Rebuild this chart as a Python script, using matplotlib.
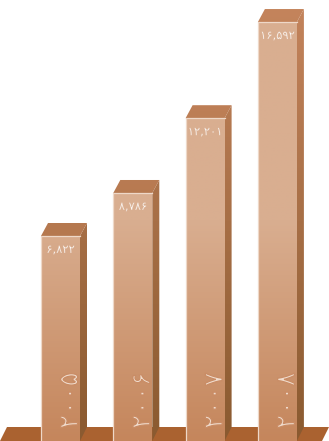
import matplotlib
matplotlib.use("Agg")
import matplotlib.pyplot as plt
import matplotlib.patheffects as pe
from matplotlib.colors import LinearSegmentedColormap
from matplotlib.patches import Polygon
import numpy as np

years = ["۲۰۰۵", "۲۰۰۶", "۲۰۰۷", "۲۰۰۸"]
values = [6822, 8786, 12201, 16592]
value_labels = ["۶,۸۲۲", "۸,۷۸۶", "۱۲,۲۰۱", "۱۶,۵۹۲"]

# pixels per value unit / per category
px_per_val = 0.0219
px_per_cat = 72.3
zero_px = 385.4
first_px = 60.5
bar_w = 39 / px_per_cat
dx = 7 / px_per_cat
dy = 14 / px_per_val

W, H = 329, 441
fig = plt.figure(figsize=(W / 100, H / 100), dpi=100)
ax = fig.add_axes([0, 0, 1, 1])
xlim = (-first_px / px_per_cat, (W - first_px) / px_per_cat)
ylim = (-(H - zero_px) / px_per_val, zero_px / px_per_val)

front_cm = LinearSegmentedColormap.from_list("front", ["#c5865c", "#d9ae90", "#d9ae90"])
side_cm = LinearSegmentedColormap.from_list("side", ["#8a5a30", "#c4845c"])
top_cm = LinearSegmentedColormap.from_list("top", ["#a86e44", "#c4845c"])
grad = np.linspace(0, 1, 256).reshape(-1, 1)


def fill(points, cmap, z):
    poly = Polygon(points, closed=True, fc="none", ec="none", transform=ax.transData)
    ax.add_patch(poly)
    im = ax.imshow(grad, cmap=cmap, origin="lower", aspect="auto", zorder=z,
                   extent=[xlim[0], xlim[1], ylim[0], ylim[1]])
    im.set_clip_path(poly)


def thin(color, width):
    # eat into the glyphs with the bar colour so the digits look light
    return [pe.Normal(), pe.PathPatchEffect(facecolor="none", edgecolor=color, linewidth=width)]


# floor
ax.add_patch(Polygon([(xlim[0] + dx, ylim[0] + dy), (xlim[1], ylim[0] + dy),
                      (xlim[1] - dx, ylim[0]), (xlim[0], ylim[0])],
                     closed=True, fc="#aa6230", ec="none", zorder=1))

for i, v in enumerate(values):
    l, r = i - bar_w / 2, i + bar_w / 2
    fill([(r, ylim[0]), (r + dx, ylim[0] + dy), (r + dx, v + 13 / px_per_val), (r, v)], side_cm, 2)
    fill([(l, v), (l + dx, v + 13 / px_per_val), (r + dx, v + 13 / px_per_val), (r, v)], top_cm, 2)
    fill([(l, ylim[0]), (r, ylim[0]), (r, v), (l, v)], front_cm, 3)
    ax.plot([l, l, r], [ylim[0], v, v], color="#eed8c8", lw=0.9, zorder=4, solid_joinstyle="miter")
    label_bg = front_cm((v - ylim[0]) / (ylim[1] - ylim[0]))
    ax.text(i, v - 7 / px_per_val, value_labels[i], ha="center", va="top",
            color="white", fontsize=8.3, zorder=5, family="DejaVu Sans",
            path_effects=thin(label_bg, 0.2))
    ax.text(i + 10 / px_per_cat, ylim[0] + 12 / px_per_val, years[i], rotation=90,
            ha="center", va="bottom", color="#f0dccd", fontsize=19,
            zorder=5, family="DejaVu Sans", path_effects=thin("#c98c65", 0.9))

ax.set_xlim(xlim)
ax.set_ylim(ylim)
ax.axis("off")
fig.savefig("out.png", dpi=100, facecolor="white")
